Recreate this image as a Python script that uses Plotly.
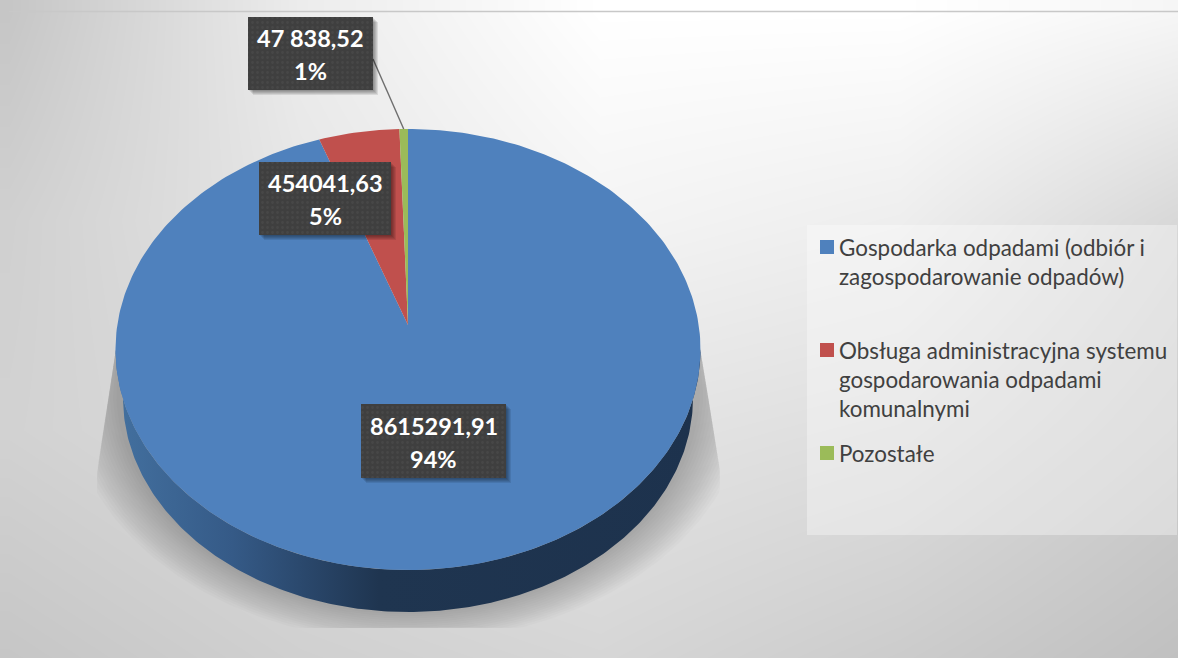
import numpy as np
import plotly.graph_objects as go

# ---- data ----
categories = ["Gospodarka odpadami (odbiór i<br>zagospodarowanie odpadów)",
              "Obsługa administracyjna systemu<br>gospodarowania odpadami<br>komunalnymi",
              "Pozostałe"]
values = [8615291.91, 454041.63, 47838.52]
value_labels = ["8615291,91", "454041,63", "47 838,52"]
percent_labels = ["94%", "5%", "1%"]
colors = ["#4F81BD", "#C0504D", "#9BBB59"]

# ---- geometry (pixel-based axes) ----
W, H = 1178, 658
CX, CY, RX, RY = 408.0, 349.5, 292.5, 220.5
APEX_Y = 325.0
LOW_CY, LOW_RX, LOW_RY = 398.0, 285.0, 214.0


def rim(theta):
    """Perspective projection: ray from apex at pie angle theta to the top ellipse."""
    dx, dy = RX * np.sin(theta), -RY * np.cos(theta)
    ay = APEX_Y - CY
    a = (dx / RX) ** 2 + (dy / RY) ** 2
    b = 2 * ay * dy / RY ** 2
    c = (ay / RY) ** 2 - 1
    t = (-b + np.sqrt(b * b - 4 * a * c)) / (2 * a)
    return CX + t * dx, APEX_Y + t * dy


fig = go.Figure()

# background gradient
bg_x = [9, 300, 600, 900, 1178]
bg_y = [12, 220, 430, 658]
bg_z = [[0xC6, 0xEC, 0xFF, 0xFF, 0xF6],
        [0xD0, 0xE6, 0xF4, 0xEE, 0xD8],
        [0xD2, 0xDC, 0xE4, 0xDE, 0xCE],
        [0xC6, 0xD0, 0xD6, 0xCC, 0xC0]]
fig.add_trace(go.Heatmap(x=bg_x, y=bg_y, z=bg_z, zmin=0, zmax=255, zsmooth="best",
                         colorscale=[[0, "#000000"], [1, "#FFFFFF"]], showscale=False,
                         hoverinfo="skip"))

# legend panel
fig.add_trace(go.Scatter(x=[807, 1177, 1177, 807, 807], y=[225, 225, 535, 535, 225],
                         mode="lines", fill="toself", fillcolor="rgba(255,255,255,0.35)",
                         line=dict(width=0), hoverinfo="skip", showlegend=False))

# soft ground shadow
phi = np.linspace(np.pi, 0, 160)
N = 16
for k in range(N):
    f = k / (N - 1)
    rx, ry = 292 + 48 * f, 218 + 32 * f
    x = 408 + rx * np.cos(phi)
    y = 392 + ry * np.sin(phi)
    y = np.minimum(y, 628)
    left = np.where(y < 470, 116 - (y - 350) * 19 / 120, 97)
    right = np.where(y < 470, 701 + (y - 350) * 19 / 120, 720)
    x = np.clip(x, left, right)
    x = np.r_[118, x, 698]
    y = np.r_[335, y, 335]
    fig.add_trace(go.Scatter(x=x, y=y, mode="lines", fill="toself",
                             fillcolor="rgba(0,0,0,0.017)", line=dict(width=0),
                             hoverinfo="skip", showlegend=False))

# side wall
phi = np.linspace(np.pi, 0, 240)
wx = np.r_[CX + RX * np.cos(phi), (CX + LOW_RX * np.cos(phi))[::-1]]
wy = np.r_[CY + RY * np.sin(phi), (LOW_CY + LOW_RY * np.sin(phi))[::-1]]
fig.add_trace(go.Scatter(x=wx, y=wy, mode="lines", fill="toself", line=dict(width=0),
                         fillgradient=dict(type="horizontal",
                                           colorscale=[[0, "#43709F"], [0.2, "#355A87"],
                                                       [0.45, "#1F3550"], [1, "#1D324D"]]),
                         hoverinfo="skip", showlegend=False))

# top slices, clockwise from 12 o'clock
fractions = np.array(values) / sum(values)
edges = np.r_[0, np.cumsum(fractions)] * 2 * np.pi
for i, cat in enumerate(categories):
    th = np.linspace(edges[i], edges[i + 1], max(3, int(fractions[i] * 360)))
    rx_, ry_ = rim(th)
    fig.add_trace(go.Scatter(x=np.r_[CX, rx_, CX], y=np.r_[APEX_Y, ry_, APEX_Y],
                             mode="lines", fill="toself", fillcolor=colors[i],
                             line=dict(width=0), name=cat.replace("<br>", " "),
                             hoverinfo="name", showlegend=False))

# leader line from small-slice label to rim
gx, gy = rim((edges[2] + edges[3]) / 2)
fig.add_trace(go.Scatter(x=[373, gx], y=[59, gy], mode="lines",
                         line=dict(color="#6E6E6E", width=1.4),
                         hoverinfo="skip", showlegend=False))

# data-label boxes (order matches categories)
boxes = [(361, 404, 506, 478), (259, 162, 391, 235), (248, 17, 373, 90)]
for (x0, y0, x1, y1) in boxes:
    for s in range(1, 6):
        fig.add_trace(go.Scatter(x=[x0 + s, x1 + s, x1 + s, x0 + s, x0 + s],
                                 y=[y0 + s, y0 + s, y1 + s, y1 + s, y0 + s],
                                 mode="lines", fill="toself", fillcolor="rgba(0,0,0,0.09)",
                                 line=dict(width=0), hoverinfo="skip", showlegend=False))
    fig.add_trace(go.Scatter(x=[x0, x1, x1, x0, x0], y=[y0, y0, y1, y1, y0],
                             mode="lines", fill="toself", line=dict(width=0),
                             fillcolor="#3F3F3F",
                             fillpattern=dict(shape=".", bgcolor="#3F3F3F", fgcolor="#4F4F4F",
                                              size=5, solidity=0.25),
                             hoverinfo="skip", showlegend=False))

annotations = []
label_font = dict(family="Lato", size=23.5, color="white", weight="bold")
for (x0, y0, x1, y1), v, p in zip(boxes, value_labels, percent_labels):
    xc, yc = (x0 + x1) / 2, (y0 + y1) / 2
    annotations.append(dict(x=xc, y=yc - 15.5, xref="x", yref="y", text=v,
                            showarrow=False, font=label_font))
    annotations.append(dict(x=xc, y=yc + 17.5, xref="x", yref="y", text=p,
                            showarrow=False, font=label_font))

# legend swatches + text
legend_y = [247, 350, 453]
legend_center = [262, 379, 453]
fig.add_trace(go.Scatter(x=[827, 827, 827], y=legend_y, mode="markers",
                         marker=dict(symbol="square", size=14, color=colors, line=dict(width=0)),
                         hoverinfo="skip", showlegend=False))
for c, yc in zip(categories, legend_center):
    annotations.append(dict(x=836.5, y=yc, xref="x", yref="y", text=c, showarrow=False,
                            xanchor="left", align="left",
                            font=dict(family="Lato", size=22.4, color="#404040")))

shapes = [
    dict(type="line", xref="x", yref="y", x0=9, x1=1178, y0=11.5, y1=11.5,
         line=dict(color="#C8C8C8", width=1.5), layer="above"),
]
hidden_axis = dict(visible=False, showgrid=False, zeroline=False, fixedrange=True)

fig.update_layout(
    width=W, height=H, margin=dict(l=0, r=0, t=0, b=0),
    paper_bgcolor="white", plot_bgcolor="white", showlegend=False,
    xaxis=dict(range=[0, W], **hidden_axis),
    yaxis=dict(range=[H, 0], **hidden_axis),
    annotations=annotations, shapes=shapes,
)
fig.write_html("out.html", config=dict(displayModeBar=False),
               post_script="document.body.style.margin='0';document.body.style.overflow='hidden';")
